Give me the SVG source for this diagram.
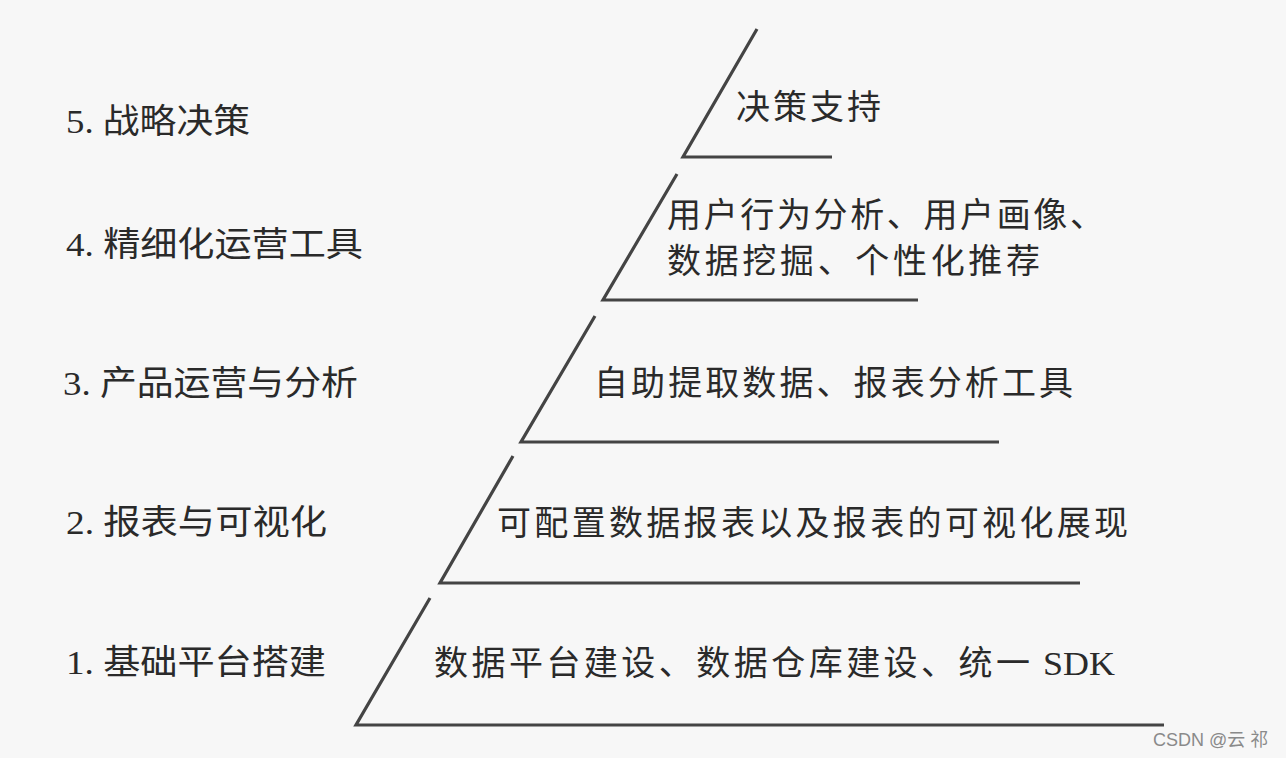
<svg xmlns="http://www.w3.org/2000/svg" width="1286" height="758" viewBox="0 0 1286 758">
<style>
.t{font-family:"Liberation Serif","Noto Sans CJK SC",serif;font-size:34px;fill:#2a2a2a}
.ln{fill:none;stroke:#444;stroke-width:3.2;stroke-linejoin:miter}
.wm{font-family:"Liberation Sans","Noto Sans CJK SC",sans-serif;font-size:18px;fill:#8a8a8a}
</style>
<rect width="1286" height="758" fill="#f7f7f7"/>
<g id="connectors">
<polyline class="ln" points="757,29 683,157 832,157"/>
<polyline class="ln" points="677,174 603,300 918,300"/>
<polyline class="ln" points="595,316 521,442 999,442"/>
<polyline class="ln" points="513,456 440,583 1080,583"/>
<polyline class="ln" points="430,598 356,725 1164,725"/>
</g>
<g id="level5">
<text class="t" x="66" y="133" textLength="184" lengthAdjust="spacingAndGlyphs">5. 战略决策</text>
<text class="t" x="736" y="119" textLength="145" lengthAdjust="spacing">决策支持</text>
</g>
<g id="level4">
<text class="t" x="66" y="256" textLength="297" lengthAdjust="spacingAndGlyphs">4. 精细化运营工具</text>
<text class="t" x="667" y="227" textLength="437" lengthAdjust="spacing">用户行为分析、用户画像、</text>
<text class="t" x="667" y="273" textLength="373" lengthAdjust="spacing">数据挖掘、个性化推荐</text>
</g>
<g id="level3">
<text class="t" x="63" y="395" textLength="295" lengthAdjust="spacingAndGlyphs">3. 产品运营与分析</text>
<text class="t" x="594" y="395" textLength="479" lengthAdjust="spacing">自助提取数据、报表分析工具</text>
</g>
<g id="level2">
<text class="t" x="66" y="534" textLength="261" lengthAdjust="spacingAndGlyphs">2. 报表与可视化</text>
<text class="t" x="497" y="535" textLength="631" lengthAdjust="spacing">可配置数据报表以及报表的可视化展现</text>
</g>
<g id="level1">
<text class="t" x="66" y="674" textLength="260" lengthAdjust="spacingAndGlyphs">1. 基础平台搭建</text>
<text class="t" x="434" y="675" textLength="596" lengthAdjust="spacing">数据平台建设、数据仓库建设、统一</text>
<text class="t" x="1043" y="675" textLength="72" lengthAdjust="spacingAndGlyphs">SDK</text>
</g>
<text class="wm" x="1153" y="746">CSDN @云 祁</text>
</svg>
